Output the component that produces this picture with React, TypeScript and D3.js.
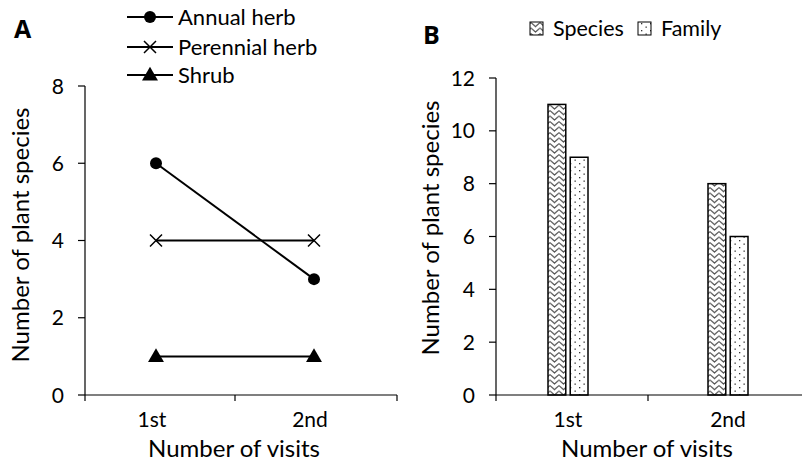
import * as d3 from "d3";

const visits = ["1st", "2nd"];

const annualHerb = [6, 3];
const perennialHerb = [4, 4];
const shrub = [1, 1];

const speciesCounts = [11, 8];
const familyCounts = [9, 6];

const ticksA = [0, 2, 4, 6, 8];
const ticksB = [0, 2, 4, 6, 8, 10, 12];

const font = "Lato, 'Open Sans', sans-serif";

const lineSeries = [
  { name: "Annual herb", values: annualHerb, marker: "circle" },
  { name: "Perennial herb", values: perennialHerb, marker: "cross" },
  { name: "Shrub", values: shrub, marker: "triangle" },
];

const barSeries = [
  { name: "Species", values: speciesCounts, fill: "url(#chevron)" },
  { name: "Family", values: familyCounts, fill: "url(#dots)" },
];

function Marker({ type, x, y }: { type: string; x: number; y: number }) {
  if (type === "circle") return <circle cx={x} cy={y} r={6} fill="#000" />;
  if (type === "cross")
    return (
      <path
        d={`M${x - 6},${y - 6}L${x + 6},${y + 6}M${x - 6},${y + 6}L${x + 6},${y - 6}`}
        stroke="#000"
        strokeWidth={1.5}
      />
    );
  const tri = d3.symbol(d3.symbolTriangle, 110)();
  return <path d={tri as string} transform={`translate(${x},${y + 1})`} fill="#000" />;
}

export default function App() {
  const width = 802;
  const height = 463;

  // panel A
  const yA = d3.scaleLinear().domain([0, 8]).range([395, 86]);
  const xA = d3.scaleBand<string>().domain(visits).range([77, 393]);
  const axisA = { x0: 85, x1: 397 };

  // panel B
  const yB = d3.scaleLinear().domain([0, 12]).range([395, 78]);
  const xB = d3.scaleBand<string>().domain(visits).range([488, 808]);
  const inner = d3.scaleBand<string>()
    .domain(barSeries.map(s => s.name))
    .range([-20, 20])
    .paddingInner(0.2);

  const line = d3.line<number>()
    .x((_, i) => (xA(visits[i]) as number) + xA.bandwidth() / 2)
    .y(d => yA(d));

  return (
    <svg width={width} height={height} style={{ position: "absolute", left: 0, top: 0 }}
      fontFamily={font}>
      <defs>
        <pattern id="chevron" patternUnits="userSpaceOnUse" width={9} height={5.5}>
          <rect width={9} height={5.5} fill="#fff" />
          <path d="M0,0.5L4.5,4.5L9,0.5" fill="none" stroke="#333" strokeWidth={1} />
        </pattern>
        <pattern id="dots" patternUnits="userSpaceOnUse" width={9} height={7}>
          <rect width={9} height={7} fill="#fff" />
          <rect x={2} y={2} width={1.3} height={1.3} fill="#333" />
          <rect x={6.5} y={5.5} width={1.3} height={1.3} fill="#333" />
        </pattern>
      </defs>
      <rect width={width} height={height} fill="#fff" />

      {/* ---------- Panel A ---------- */}
      <text x={14} y={38} fontSize={25} fontWeight="bold" fontFamily="'Open Sans', sans-serif">A</text>

      {lineSeries.map((s, i) => {
        const cy = [17, 47, 75][i];
        return (
          <g key={s.name}>
            <line x1={127} x2={173} y1={cy} y2={cy} stroke="#000" strokeWidth={2} />
            <Marker type={s.marker} x={150} y={cy} />
            <text x={178} y={cy} dy="0.35em" fontSize={22}>{s.name}</text>
          </g>
        );
      })}

      <line x1={axisA.x0} x2={axisA.x0} y1={yA(8)} y2={yA(0)} stroke="#000" strokeWidth={1.2} />
      {ticksA.map(t => (
        <g key={t}>
          <line x1={78} x2={axisA.x0} y1={yA(t)} y2={yA(t)} stroke="#000" strokeWidth={1.2} />
          <text x={64} y={yA(t)} dy="0.36em" textAnchor="end" fontSize={21}>{t}</text>
        </g>
      ))}
      <line x1={axisA.x0} x2={axisA.x1} y1={yA(0)} y2={yA(0)} stroke="#000" strokeWidth={1.2} />
      {[axisA.x0, (xA("2nd") as number), axisA.x1].map((x, i) => (
        <line key={i} x1={x} x2={x} y1={yA(0)} y2={yA(0) + 6} stroke="#000" strokeWidth={1.2} />
      ))}
      {visits.map(v => (
        <text key={v} x={(xA(v) as number) + xA.bandwidth() / 2 - 4} y={427} textAnchor="middle" fontSize={21}>{v}</text>
      ))}
      <text x={234} y={457} textAnchor="middle" fontSize={24}>Number of visits</text>
      <text transform={`translate(29,235) rotate(-90)`} textAnchor="middle" fontSize={24}>Number of plant species</text>

      {lineSeries.map(s => (
        <g key={s.name}>
          <path d={line(s.values) as string} fill="none" stroke="#000" strokeWidth={2} />
          {s.values.map((v, i) => (
            <Marker key={i} type={s.marker}
              x={(xA(visits[i]) as number) + xA.bandwidth() / 2} y={yA(v)} />
          ))}
        </g>
      ))}

      {/* ---------- Panel B ---------- */}
      <text x={423} y={44} fontSize={25} fontWeight="bold" fontFamily="'Open Sans', sans-serif">B</text>

      {barSeries.map((s, i) => {
        const bx = [530, 638][i];
        return (
          <g key={s.name}>
            <rect x={bx} y={22} width={13} height={13} fill={s.fill} stroke="#000" strokeWidth={1} />
            <text x={bx + 23} y={28} dy="0.35em" fontSize={21.5}>{s.name}</text>
          </g>
        );
      })}

      {visits.map((v, vi) => (
        <g key={v} transform={`translate(${(xB(v) as number) + xB.bandwidth() / 2},0)`}>
          {barSeries.map(s => (
            <rect key={s.name}
              x={inner(s.name) as number}
              y={yB(s.values[vi])}
              width={inner.bandwidth()}
              height={yB(0) - yB(s.values[vi])}
              fill={s.fill} stroke="#000" strokeWidth={1.5} />
          ))}
        </g>
      ))}

      <line x1={496} x2={496} y1={yB(12)} y2={yB(0)} stroke="#000" strokeWidth={1.2} />
      {ticksB.map(t => (
        <g key={t}>
          <line x1={489} x2={496} y1={yB(t)} y2={yB(t)} stroke="#000" strokeWidth={1.2} />
          <text x={475} y={yB(t)} dy="0.36em" textAnchor="end" fontSize={21}>{t}</text>
        </g>
      ))}
      <line x1={496} x2={width} y1={yB(0)} y2={yB(0)} stroke="#000" strokeWidth={1.2} />
      {[496, (xB("2nd") as number)].map((x, i) => (
        <line key={i} x1={x} x2={x} y1={yB(0)} y2={yB(0) + 6} stroke="#000" strokeWidth={1.2} />
      ))}
      {visits.map(v => (
        <text key={v} x={(xB(v) as number) + xB.bandwidth() / 2} y={427} textAnchor="middle" fontSize={21}>{v}</text>
      ))}
      <text x={647} y={457} textAnchor="middle" fontSize={24}>Number of visits</text>
      <text transform={`translate(439,228) rotate(-90)`} textAnchor="middle" fontSize={24}>Number of plant species</text>
    </svg>
  );
}
